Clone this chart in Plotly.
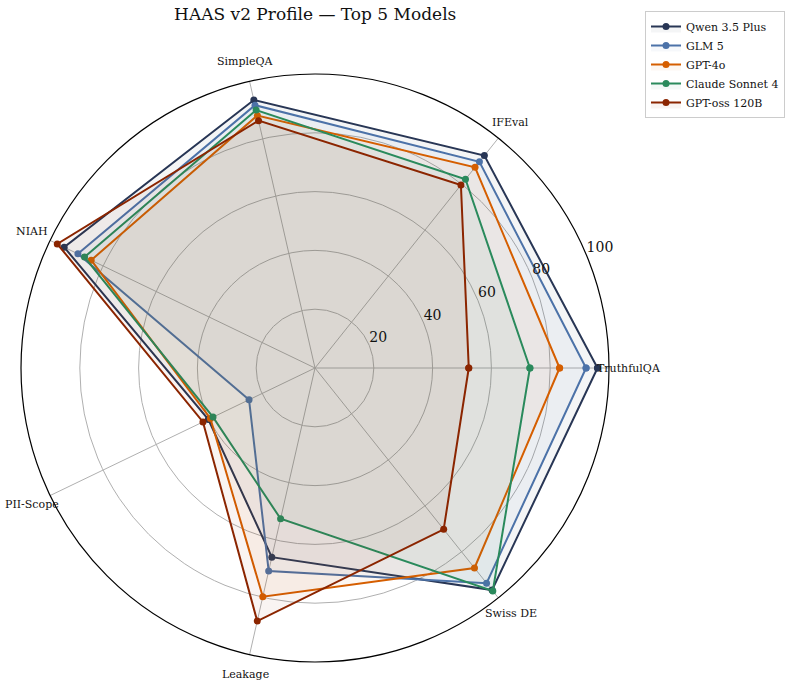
import math
import plotly.graph_objects as go

categories = ["TruthfulQA", "IFEval", "SimpleQA", "NIAH", "PII-Scope", "Leakage", "Swiss DE"]

models = ["Qwen 3.5 Plus", "GLM 5", "GPT-4o", "Claude Sonnet 4", "GPT-oss 120B"]

qwen_vals = [96.1, 92.4, 93.5, 94.7, 40.3, 66.0, 96.6]
glm_vals = [92.2, 89.7, 91.7, 89.5, 24.9, 70.8, 93.6]
gpt4o_vals = [83.2, 87.3, 88.1, 84.5, 39.5, 79.8, 87.0]
claude_vals = [73.1, 82.1, 90.0, 87.0, 38.5, 52.6, 97.0]
gptoss_vals = [52.3, 79.6, 86.3, 97.3, 42.3, 88.3, 70.2]

series = [qwen_vals, glm_vals, gpt4o_vals, claude_vals, gptoss_vals]
colors = ["#283655", "#4c72a8", "#d55e00", "#2a8a5c", "#8b2500"]

radial_ticks = [20, 40, 60, 80, 100]
radial_label_angle = 22.5

W, H = 788, 687
CX, CY, R = 315, 368, 294          # polar centre / radius in pixels
LABEL_PAD = 1.068                  # category labels sit just outside the rim


def rgba(hexc, a):
    h = hexc.lstrip("#")
    r, g, b = int(h[0:2], 16), int(h[2:4], 16), int(h[4:6], 16)
    return f"rgba({r},{g},{b},{a})"


fig = go.Figure()
for name, vals, col in zip(models, series, colors):
    fig.add_trace(go.Scatterpolar(
        r=vals + [vals[0]],
        theta=categories + [categories[0]],
        name=name,
        mode="lines+markers",
        line=dict(color=col, width=2),
        marker=dict(color=col, size=7),
        fill="toself",
        fillcolor=rgba(col, 0.05),
    ))

serif = "DejaVu Serif"

# Horizontal radial tick labels (overlay polar with numeric angles)
fig.add_trace(go.Scatterpolar(
    r=radial_ticks, theta=[radial_label_angle] * len(radial_ticks),
    text=[str(v) for v in radial_ticks], mode="text", textposition="top right",
    textfont=dict(family=serif, size=14, color="#111111"),
    subplot="polar2", showlegend=False, hoverinfo="skip", cliponaxis=False,
))

# Category labels as annotations around the rim
n = len(categories)
annotations = []
for i, cat in enumerate(categories):
    ang = math.radians(i * 360 / n)
    px = CX + R * LABEL_PAD * math.cos(ang)
    py = CY - R * LABEL_PAD * math.sin(ang)
    annotations.append(dict(
        text=cat, x=px / W, y=1 - py / H, xref="paper", yref="paper",
        xanchor="center", yanchor="middle", showarrow=False,
        font=dict(family=serif, size=11, color="#111111"),
    ))

dom_x = [(CX - R) / W, (CX + R) / W]
dom_y = [1 - (CY + R) / H, 1 - (CY - R) / H]

fig.update_layout(
    width=W, height=H,
    margin=dict(l=0, r=0, t=0, b=0),
    paper_bgcolor="white",
    plot_bgcolor="white",
    font=dict(family=serif, color="#222222"),
    title=dict(text="HAAS v2 Profile \u2014 Top 5 Models", x=0.4, xanchor="center",
               y=0.98, yanchor="middle", font=dict(family=serif, size=17, color="#111111")),
    annotations=annotations,
    polar=dict(
        domain=dict(x=dom_x, y=dom_y),
        bgcolor="white",
        angularaxis=dict(
            direction="counterclockwise", rotation=0,
            categoryorder="array", categoryarray=categories,
            showline=True, linecolor="black", linewidth=1.2,
            showgrid=True, gridcolor="#b0b0b0", gridwidth=1,
            ticks="", showticklabels=False,
        ),
        radialaxis=dict(
            range=[0, 100], angle=radial_label_angle,
            tickvals=radial_ticks, showticklabels=False,
            showline=False, ticks="",
            showgrid=True, gridcolor="#b0b0b0", gridwidth=1,
        ),
    ),
    polar2=dict(
        domain=dict(x=dom_x, y=dom_y),
        bgcolor="rgba(0,0,0,0)",
        angularaxis=dict(direction="counterclockwise", rotation=0, visible=False,
                         thetaunit="degrees"),
        radialaxis=dict(range=[0, 100], visible=False),
    ),
    legend=dict(
        x=645 / W, y=1 - 11 / H, xanchor="left", yanchor="top",
        bordercolor="#cccccc", borderwidth=1, bgcolor="white",
        font=dict(family=serif, size=11, color="#111111"),
        itemwidth=30,
    ),
)

fig.write_html("out.html")
